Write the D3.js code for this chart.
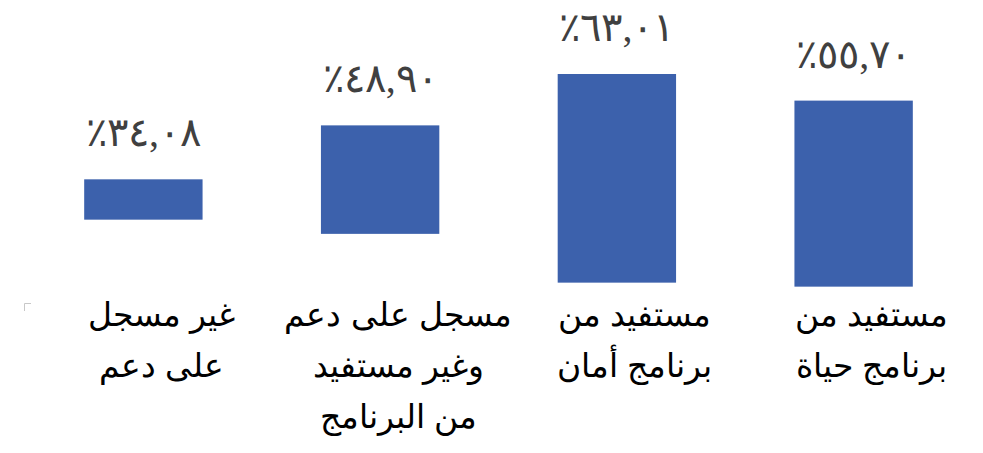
<!DOCTYPE html>
<html><head><meta charset="utf-8">
<script src="https://d3js.org/d3.v7.min.js"></script>
<style>html,body{margin:0;padding:0;background:#fff;overflow:hidden}</style>
</head><body>
<svg id="c" width="983" height="453"></svg>
<script>
// data
const categories = [
  ["غير مسجل", "على دعم"],
  ["مسجل على دعم", "وغير مستفيد", "من البرنامج"],
  ["مستفيد من", "برنامج أمان"],
  ["مستفيد من", "برنامج حياة"]
];
const values = [34.08, 48.90, 63.01, 55.70];
const valueLabels = ["٪٣٤,٠٨", "٪٤٨,٩٠", "٪٦٣,٠١", "٪٥٥,٧٠"];
const barBase = [23.0, 19.1, 5.7, 4.6];

const svg = d3.select("#c");
const x = d3.scaleBand().domain(d3.range(values.length)).range([25, 972]).paddingInner(0.5).paddingOuter(0.25);
const y = d3.scaleLinear().domain([0, 63.01]).range([303.4, 74]);

svg.selectAll("rect.bar").data(values).join("rect")
  .attr("class","bar")
  .attr("x",(d,i)=>x(i))
  .attr("width",x.bandwidth())
  .attr("y",d=>y(d))
  .attr("height",(d,i)=>y(barBase[i])-y(d))
  .attr("fill","#3c61ac");

svg.selectAll("text.val").data(values).join("text")
  .attr("class","val")
  .attr("x",(d,i)=>x(i)+x.bandwidth()/2)
  .attr("y",d=>y(d)-33)
  .attr("text-anchor","middle")
  .attr("direction","ltr")
  .attr("unicode-bidi","bidi-override")
  .style("font-family","'Liberation Serif','DejaVu Serif',serif")
  .style("font-size","40px")
  .style("letter-spacing","8px")
  .attr("fill","#404040")
  .text((d,i)=>valueLabels[i]);

const cat = svg.selectAll("text.cat").data(categories).join("text")
  .attr("class","cat")
  .attr("text-anchor","middle")
  .attr("direction","rtl")
  .style("font-family","'Liberation Sans',Arial,sans-serif")
  .style("font-size","33px")
  .attr("fill","#000");
cat.each(function(lines,i){
  const t = d3.select(this);
  lines.forEach((ln,j)=>{
    t.append("tspan").attr("x", x(i)+x.bandwidth()/2+18).attr("y", 326 + j*51).text(ln);
  });
});

svg.append("path").attr("d","M24.5,311 V303.5 H31").attr("fill","none").attr("stroke","#c8c8c8").attr("stroke-width",1);
</script>
</body></html>
